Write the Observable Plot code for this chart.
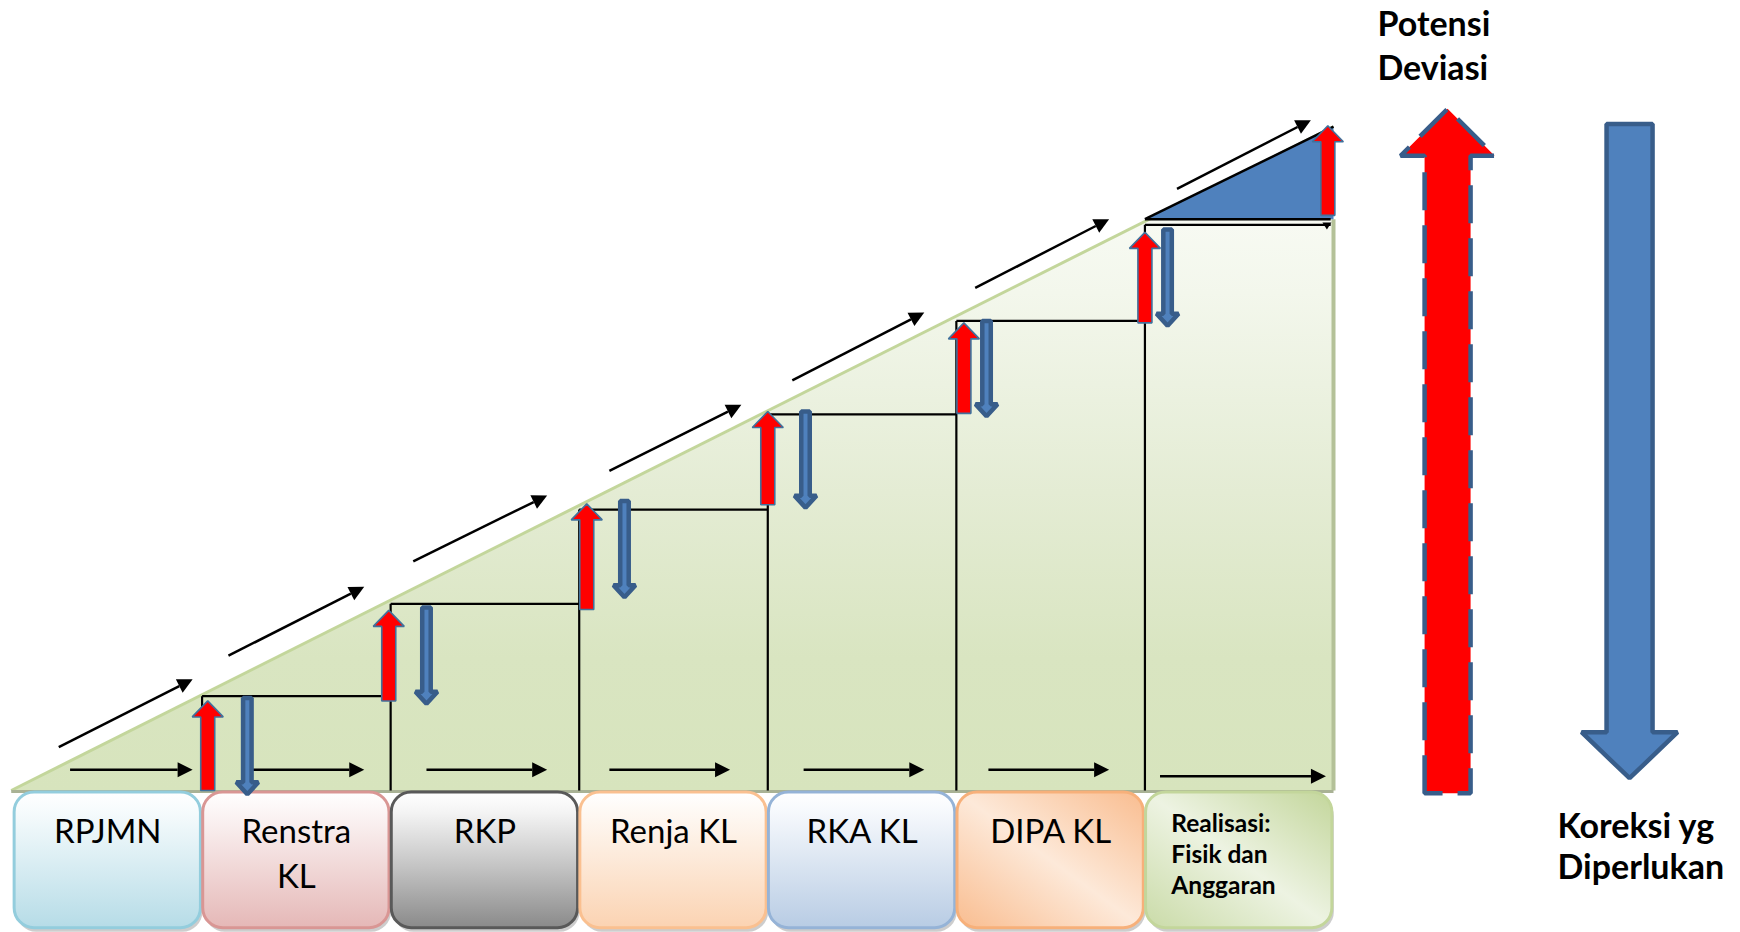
<!DOCTYPE html>
<html><head><meta charset="utf-8">
<script src="https://cdn.jsdelivr.net/npm/d3@7"></script>
<script src="https://cdn.jsdelivr.net/npm/@observablehq/plot@0.6"></script>
<style>html,body{margin:0;padding:0;background:#fff;} #chart svg{display:block;}</style>
</head><body><div id="chart"></div>
<script>
// ---------------- data (stage index on x, level on y) ----------------
const stages = ["RPJMN", "Renstra\nKL", "RKP", "Renja KL", "RKA KL", "DIPA KL", "Realisasi:\nFisik dan\nAnggaran"];
// level of the step line that starts at each stage boundary 1..6
const stepLevels = [1.00, 1.98, 2.98, 3.99, 4.98, 6.00];
const apexLevel = 7.04;      // top of the triangle (right edge)
const peakBaseLevel = 6.06;  // base of the blue top triangle
// small red "deviation" arrows
const devX    = [1.03, 1.99, 3.04, 4.00, 5.04, 6.00, 6.97];
const devTip  = [0.95, 1.91, 3.04, 4.02, 4.96, 5.92, 7.05];
const devTail = [0.00, 0.95, 1.92, 3.03, 4.00, 4.96, 6.10];
// small blue "correction" arrows
const corX    = [1.24, 2.19, 3.24, 4.20, 5.16, 6.12];
const corTop  = [0.98, 1.94, 3.07, 4.02, 4.98, 5.95];
const corTip  = [-0.04, 0.92, 2.05, 3.00, 3.97, 4.93];
// horizontal flow arrows along the base
const flowStart = [0.30, 1.27, 2.19, 3.16, 4.19, 5.17, 6.08];
const flowEnd   = [0.95, 1.86, 2.83, 3.80, 4.83, 5.81, 6.96];
const flowLevel = [0.22, 0.22, 0.22, 0.22, 0.22, 0.22, 0.15];
// diagonal arrows above the slope
const climbX1 = [0.24, 1.14, 2.12, 3.16, 4.13, 5.10, 6.17];
const climbY1 = [0.46, 1.43, 2.43, 3.39, 4.35, 5.33, 6.38];
const climbX2 = [0.95, 1.86, 2.83, 3.86, 4.83, 5.81, 6.88];
const climbY2 = [1.18, 2.16, 3.13, 4.09, 5.07, 6.06, 7.11];
// big legend arrows
const bigDev = [7.605, 7.23, -0.03];   // x, tip, tail
const bigCor = [8.57, 7.07, 0.13];     // x, top, tip
const legendLabels = ["Potensi\nDeviasi", "Koreksi yg\nDiperlukan"];
const legendX = [7.233, 8.188];
const legendBaseline = [8.006, -0.50];

// ---------------- styles ----------------
const boxGrad = [
  {stops: [[0,"#ffffff"],[0.12,"#f8fcfd"],[1,"#b6dce7"]], stroke: "#93cddd"},
  {stops: [[0,"#ffffff"],[0.12,"#fcf7f7"],[1,"#e5b8b7"]], stroke: "#d99694"},
  {stops: [[0,"#ffffff"],[0.15,"#f4f4f4"],[0.55,"#c4c4c4"],[1,"#8a8a8a"]], stroke: "#595959"},
  {stops: [[0,"#ffffff"],[0.12,"#fefaf6"],[1,"#fbd3b2"]], stroke: "#fac090"},
  {stops: [[0,"#ffffff"],[0.12,"#f8fafd"],[1,"#b8cce4"]], stroke: "#95b3d7"},
  {stops: [[0,"#f9bd90"],[0.5,"#fde9d9"],[1,"#f9bd90"]], stroke: "#f7b07a", diag: true},
  {stops: [[0,"#c3d69b"],[0.5,"#edf3e2"],[1,"#cadba8"]], stroke: "#c3d69b", diag: true}
];
const FONT = "Lato, 'Open Sans', sans-serif";

const X_RANGE = [13, 1333], Y_RANGE = [790, 130];
const SX = (X_RANGE[1] - X_RANGE[0]) / 7, SY = (Y_RANGE[0] - Y_RANGE[1]) / 7;

// ---------------- helpers building shapes in data units ----------------
const poly = (id, pts) => pts.map(([x, y]) => ({id, x, y}));
function vArrow(id, cx, tip, tail, shaftPx, headWPx, headLPx) {
  const d = tip > tail ? 1 : -1;
  const sw = shaftPx / 2 / SX, hw = headWPx / 2 / SX, hb = tip - d * headLPx / SY;
  return poly(id, [[cx - sw, tail], [cx - sw, hb], [cx - hw, hb], [cx, tip], [cx + hw, hb], [cx + sw, hb], [cx + sw, tail]]);
}
function arrowHead(id, x1, y1, x2, y2, lenPx, halfPx) {
  const dx = (x2 - x1) * SX, dy = (y2 - y1) * SY, L = Math.hypot(dx, dy), ux = dx / L, uy = dy / L;
  const bx = x2 * SX - ux * lenPx, by = y2 * SY - uy * lenPx;
  return {
    base: [bx / SX, by / SY],
    pts: poly(id, [[x2, y2], [(bx - uy * halfPx) / SX, (by + ux * halfPx) / SY], [(bx + uy * halfPx) / SX, (by - ux * halfPx) / SY]])
  };
}
const polyMark = (data, o) => Plot.line(data, {x: "x", y: "y", z: "id", curve: "linear-closed", ...o});

// black arrows
const lineSegs = [], lineHeads = [];
function addArrow(id, x1, y1, x2, y2) {
  const h = arrowHead(id, x1, y1, x2, y2, 15, 7.5);
  lineSegs.push({x1, y1, x2: h.base[0], y2: h.base[1]});
  lineHeads.push(...h.pts);
}
flowStart.forEach((s, i) => addArrow("f" + i, s, flowLevel[i], flowEnd[i], flowLevel[i]));
climbX1.forEach((s, i) => addArrow("c" + i, s, climbY1[i], climbX2[i], climbY2[i]));

// steps
const stepSegs = [];
stepLevels.forEach((L, i) => {
  stepSegs.push({x1: i + 1, y1: L, x2: i === 5 ? 6.985 : i + 2, y2: L});
  stepSegs.push({x1: i + 1, y1: L, x2: i + 1, y2: 0});
});

const devPolys = devX.flatMap((x, i) => vArrow("d" + i, x, devTip[i], devTail[i], 14, 31, 16));
const corPolys = corX.flatMap((x, i) => vArrow("k" + i, x, corTip[i], corTop[i], 8.5, 22, 12));
const bigDevPoly = vArrow("bd", bigDev[0], bigDev[1], bigDev[2], 46, 94, 47);
const bigCorPoly = vArrow("bc", bigCor[0], bigCor[2], bigCor[1], 46, 96, 46);

// stage labels split into lines
const labelRows = [];
stages.forEach((s, i) => {
  const last = i === stages.length - 1;
  s.split("\n").forEach((t, k) => labelRows.push({
    t, last,
    x: last ? 6.14 : i + 0.5,
    y: last ? -0.445 - k * 0.329 : -0.56 - k * 0.477
  }));
});
const legendRows = [];
legendLabels.forEach((s, i) => s.split("\n").forEach((t, k) =>
  legendRows.push({t, x: legendX[i], y: legendBaseline[i] - k * (i === 0 ? 0.466 : 0.44)})));

const boxMarks = stages.flatMap((s, i) => {
  const r = [{x1: i + 0.006, x2: i + 0.994, y1: -0.02, y2: -1.46}];
  return [
    Plot.rect(r, {x1: "x1", x2: "x2", y1: "y1", y2: "y2", rx: 20, fill: "#6f6f6f", fillOpacity: 0.35, dx: 2, dy: 4}),
    Plot.rect(r, {x1: "x1", x2: "x2", y1: "y1", y2: "y2", rx: 20, fill: `url(#box${i})`, stroke: boxGrad[i].stroke, strokeWidth: 3})
  ];
});

const svg = Plot.plot({
  width: 1740, height: 932,
  marginTop: 0, marginRight: 0, marginBottom: 0, marginLeft: 0,
  x: {domain: [0, 7], range: X_RANGE, axis: null},
  y: {domain: [0, 7], range: Y_RANGE, axis: null},
  style: {background: "#ffffff"},
  marks: [
    // green slope
    polyMark(poly("tri", [[-0.012, 0], [7, apexLevel], [7, 0]]), {fill: "url(#green)", stroke: "none"}),
    Plot.link([{x1: -0.012, y1: 0, x2: 7, y2: apexLevel}], {x1: "x1", y1: "y1", x2: "x2", y2: "y2", stroke: "#c3d69b", strokeWidth: 3}),
    Plot.link([{x1: 7, y1: 0, x2: 7, y2: peakBaseLevel}], {x1: "x1", y1: "y1", x2: "x2", y2: "y2", stroke: "#b4c198", strokeWidth: 4}),
    Plot.link([{x1: -0.012, y1: 0, x2: 7, y2: 0}], {x1: "x1", y1: "y1", x2: "x2", y2: "y2", stroke: "#a9b295", strokeWidth: 3, dy: 1}),
    // boxes
    ...boxMarks,
    // steps
    Plot.link(stepSegs, {x1: "x1", y1: "y1", x2: "x2", y2: "y2", stroke: "black", strokeWidth: 2.2}),
    // blue top triangle
    polyMark(poly("peak", [[6, peakBaseLevel], [7, apexLevel], [7, peakBaseLevel]]), {fill: "#4f81bd", stroke: "none"}),
    Plot.link([{x1: 6, y1: peakBaseLevel, x2: 7, y2: apexLevel}, {x1: 6, y1: peakBaseLevel, x2: 6.985, y2: peakBaseLevel}],
      {x1: "x1", y1: "y1", x2: "x2", y2: "y2", stroke: "black", strokeWidth: 2.5}),
    polyMark(arrowHead("tiny", 6.965, stepLevels[5] + 0.02, 6.965, stepLevels[5] - 0.05, 7, 4.5).pts, {fill: "black", stroke: "none"}),
    // black flow arrows
    Plot.link(lineSegs, {x1: "x1", y1: "y1", x2: "x2", y2: "y2", stroke: "black", strokeWidth: 2.5}),
    polyMark(lineHeads, {fill: "black", stroke: "none"}),
    // small arrows
    polyMark(devPolys, {fill: "#ff0000", stroke: "#41719c", strokeWidth: 1.6, strokeLinejoin: "miter"}),
    polyMark(corPolys, {fill: "#4f81bd", stroke: "#385d8a", strokeWidth: 4.5, strokeLinejoin: "miter"}),
    // big arrows
    polyMark(bigDevPoly, {fill: "#ff0000", stroke: "#385d8a", strokeWidth: 4.5, strokeDasharray: "38,15", strokeLinejoin: "miter", strokeLinecap: "butt"}),
    polyMark(bigCorPoly, {fill: "#4f81bd", stroke: "#385d8a", strokeWidth: 4.5, strokeLinejoin: "miter"}),
    // texts
    Plot.text(labelRows.filter(d => !d.last), {x: "x", y: "y", text: "t", textAnchor: "middle", lineAnchor: "bottom", fontSize: 33, fontFamily: FONT, fill: "black"}),
    Plot.text(labelRows.filter(d => d.last), {x: "x", y: "y", text: "t", textAnchor: "start", lineAnchor: "bottom", fontSize: 24.5, fontWeight: "bold", fontFamily: FONT, fill: "black"}),
    Plot.text(legendRows, {x: "x", y: "y", text: "t", textAnchor: "start", lineAnchor: "bottom", fontSize: 34, fontWeight: "bold", fontFamily: FONT, fill: "black"})
  ]
});

// gradient definitions
const defs = d3.select(svg).insert("defs", ":first-child");
function grad(id, stops, diag) {
  const g = defs.append("linearGradient").attr("id", id)
    .attr("x1", diag ? 1 : 0).attr("y1", 0).attr("x2", 0).attr("y2", 1);
  stops.forEach(([o, c]) => g.append("stop").attr("offset", o).attr("stop-color", c));
}
grad("green", [[0, "#fdfefb"], [0.25, "#f3f7ec"], [0.55, "#e4ecd4"], [0.8, "#d9e5c1"], [1, "#d7e4bd"]], false);
boxGrad.forEach((b, i) => grad("box" + i, b.stops, b.diag));

document.getElementById("chart").appendChild(svg);
</script>
</body></html>
